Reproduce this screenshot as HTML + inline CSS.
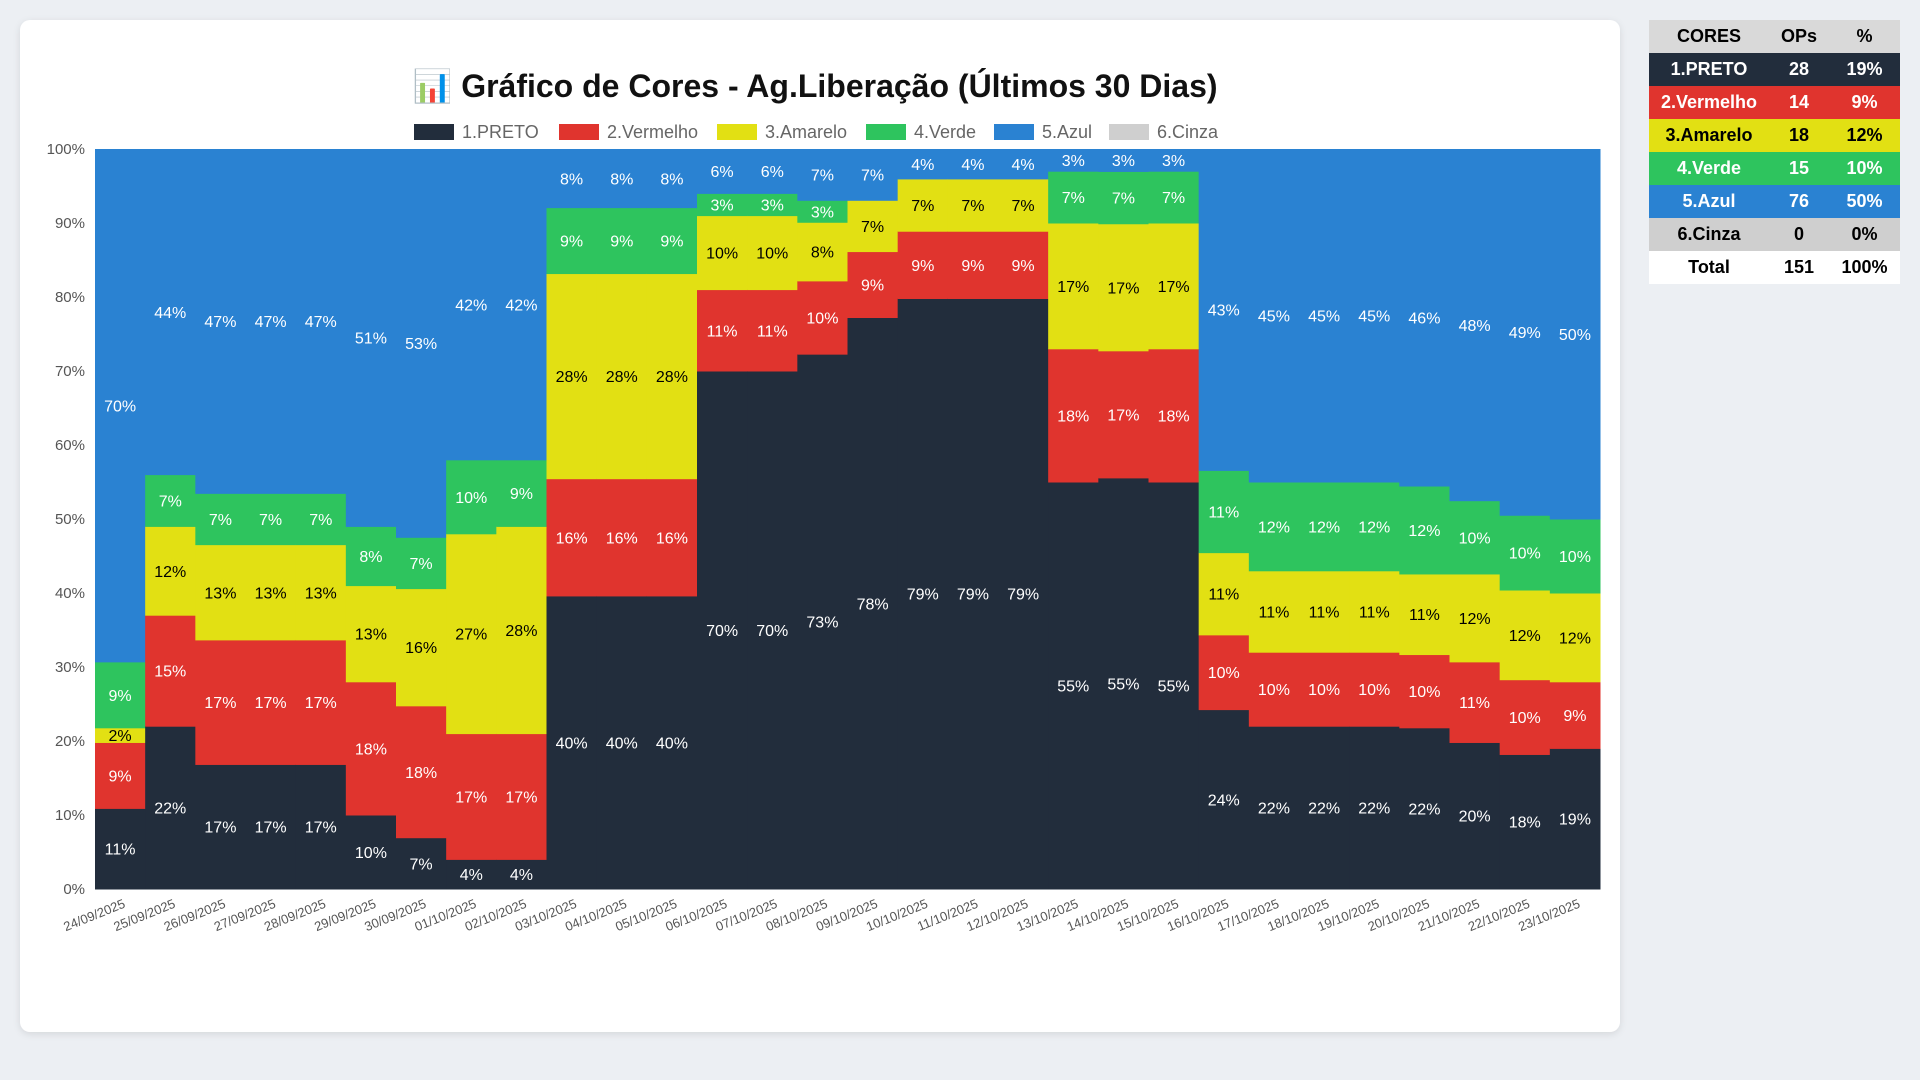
<!DOCTYPE html>
<html><head><meta charset="utf-8">
<style>
body{margin:0;width:1920px;height:1080px;background:#eceff3;font-family:"Liberation Sans",sans-serif;position:relative;overflow:hidden}
#card{position:absolute;left:20px;top:20px;width:1600px;height:1012px;background:#fff;border-radius:10px;box-shadow:0 2px 8px rgba(0,0,0,.1)}
#tbl{position:absolute;left:1649px;top:20px;width:251px;border-collapse:collapse;font-weight:bold;font-size:18px;text-align:center;table-layout:fixed}
#tbl td,#tbl th{height:33px;padding:0}
</style></head><body>
<div id="card">
<svg id="chart" width="1600" height="1012"></svg>
</div>
<table id="tbl">
<tr style="background:#d9d9d9;color:#000"><th style="width:120px">CORES</th><th style="width:60px">OPs</th><th style="width:71px">%</th></tr>
<tr style="background:#222d3c;color:#fff"><td>1.PRETO</td><td>28</td><td>19%</td></tr>
<tr style="background:#e0342e;color:#fff"><td>2.Vermelho</td><td>14</td><td>9%</td></tr>
<tr style="background:#e2e013;color:#000"><td>3.Amarelo</td><td>18</td><td>12%</td></tr>
<tr style="background:#2ec45e;color:#fff"><td>4.Verde</td><td>15</td><td>10%</td></tr>
<tr style="background:#2a82d2;color:#fff"><td>5.Azul</td><td>76</td><td>50%</td></tr>
<tr style="background:#cfcfcf;color:#000"><td>6.Cinza</td><td>0</td><td>0%</td></tr>
<tr style="background:#fff;color:#000"><td>Total</td><td>151</td><td>100%</td></tr>
</table>
<script>
const dates=["24/09/2025","25/09/2025","26/09/2025","27/09/2025","28/09/2025","29/09/2025","30/09/2025","01/10/2025","02/10/2025","03/10/2025","04/10/2025","05/10/2025","06/10/2025","07/10/2025","08/10/2025","09/10/2025","10/10/2025","11/10/2025","12/10/2025","13/10/2025","14/10/2025","15/10/2025","16/10/2025","17/10/2025","18/10/2025","19/10/2025","20/10/2025","21/10/2025","22/10/2025","23/10/2025"];
const preto=[11,22,17,17,17,10,7,4,4,40,40,40,70,70,73,78,79,79,79,55,55,55,24,22,22,22,22,20,18,19];
const vermelho=[9,15,17,17,17,18,18,17,17,16,16,16,11,11,10,9,9,9,9,18,17,18,10,10,10,10,10,11,10,9];
const amarelo=[2,12,13,13,13,13,16,27,28,28,28,28,10,10,8,7,7,7,7,17,17,17,11,11,11,11,11,12,12,12];
const verde=[9,7,7,7,7,8,7,10,9,9,9,9,3,3,3,0,0,0,0,7,7,7,11,12,12,12,12,10,10,10];
const azul=[70,44,47,47,47,51,53,42,42,8,8,8,6,6,7,7,4,4,4,3,3,3,43,45,45,45,46,48,49,50];
const cinza=[0,0,0,0,0,0,0,0,0,0,0,0,0,0,0,0,0,0,0,0,0,0,0,0,0,0,0,0,0,0];
const yTicks=[0,10,20,30,40,50,60,70,80,90,100];
const seriesNames=["1.PRETO","2.Vermelho","3.Amarelo","4.Verde","5.Azul","6.Cinza"];
const colors=["#222d3c","#e0342e","#e2e013","#2ec45e","#2a82d2","#cfcfcf"];
const txtColors=["#fff","#fff","#000","#fff","#fff","#000"];
const series=[preto,vermelho,amarelo,verde,azul,cinza];
const NS="http://www.w3.org/2000/svg";
const svg=document.getElementById("chart");
const L=75,R=1580,T=129,B=869;
const x=i=>L+(R-L)*i/dates.length;
const bw=(R-L)/dates.length;
const y=v=>B-(B-T)*Math.min(v,100)/100;
function mk(t,a,p){const e=document.createElementNS(NS,t);for(const k in a)e.setAttribute(k,a[k]);(p||svg).appendChild(e);return e;}
let t=mk("text",{x:795,y:77,"text-anchor":"middle","font-size":32,"font-weight":"bold",fill:"#111"});
t.textContent="📊 Gráfico de Cores - Ag.Liberação (Últimos 30 Dias)";


const legX=[394,539,697,846,974,1089];
seriesNames.forEach((n,k)=>{
 const g=mk("g",{});
 
 
 mk("rect",{x:legX[k],y:104,width:40,height:16,fill:colors[k]},g);
 const tx=mk("text",{x:legX[k]+48,y:118,"font-size":18,fill:"#666"},g);tx.textContent=n;
});
yTicks.forEach(v=>{
 const tx=mk("text",{x:L-10,y:y(v)+5,"text-anchor":"end","font-size":15,fill:"#555"});
 tx.textContent=v+"%";
 
 
});
dates.forEach((d,i)=>{
 let tot=0;series.forEach(s=>tot+=s[i]);
 let c=0;
 series.forEach((s,k)=>{
  const v=s[i];
  if(v<=0){return;}
  const p=v/tot*100;
  const y0=y(c),y1=y(c+p);
  const r=mk("rect",{x:x(i),y:y1,width:bw+0.5,height:Math.max(0,y0-y1+0.5),fill:colors[k]});
  
  
  const tx=mk("text",{x:x(i)+bw/2,y:(y0+y1)/2+6,"text-anchor":"middle","font-size":16,fill:txtColors[k]});
  tx.textContent=v+"%";
  
  
  c+=p;
 });
 const xl=mk("text",{x:x(i)+bw/2+6,y:B+18,"text-anchor":"end","font-size":13,fill:"#555",transform:`rotate(-22 ${x(i)+bw/2+6} ${B+18})`});
 xl.textContent=d;
 
 
});
</script>
</body></html>
